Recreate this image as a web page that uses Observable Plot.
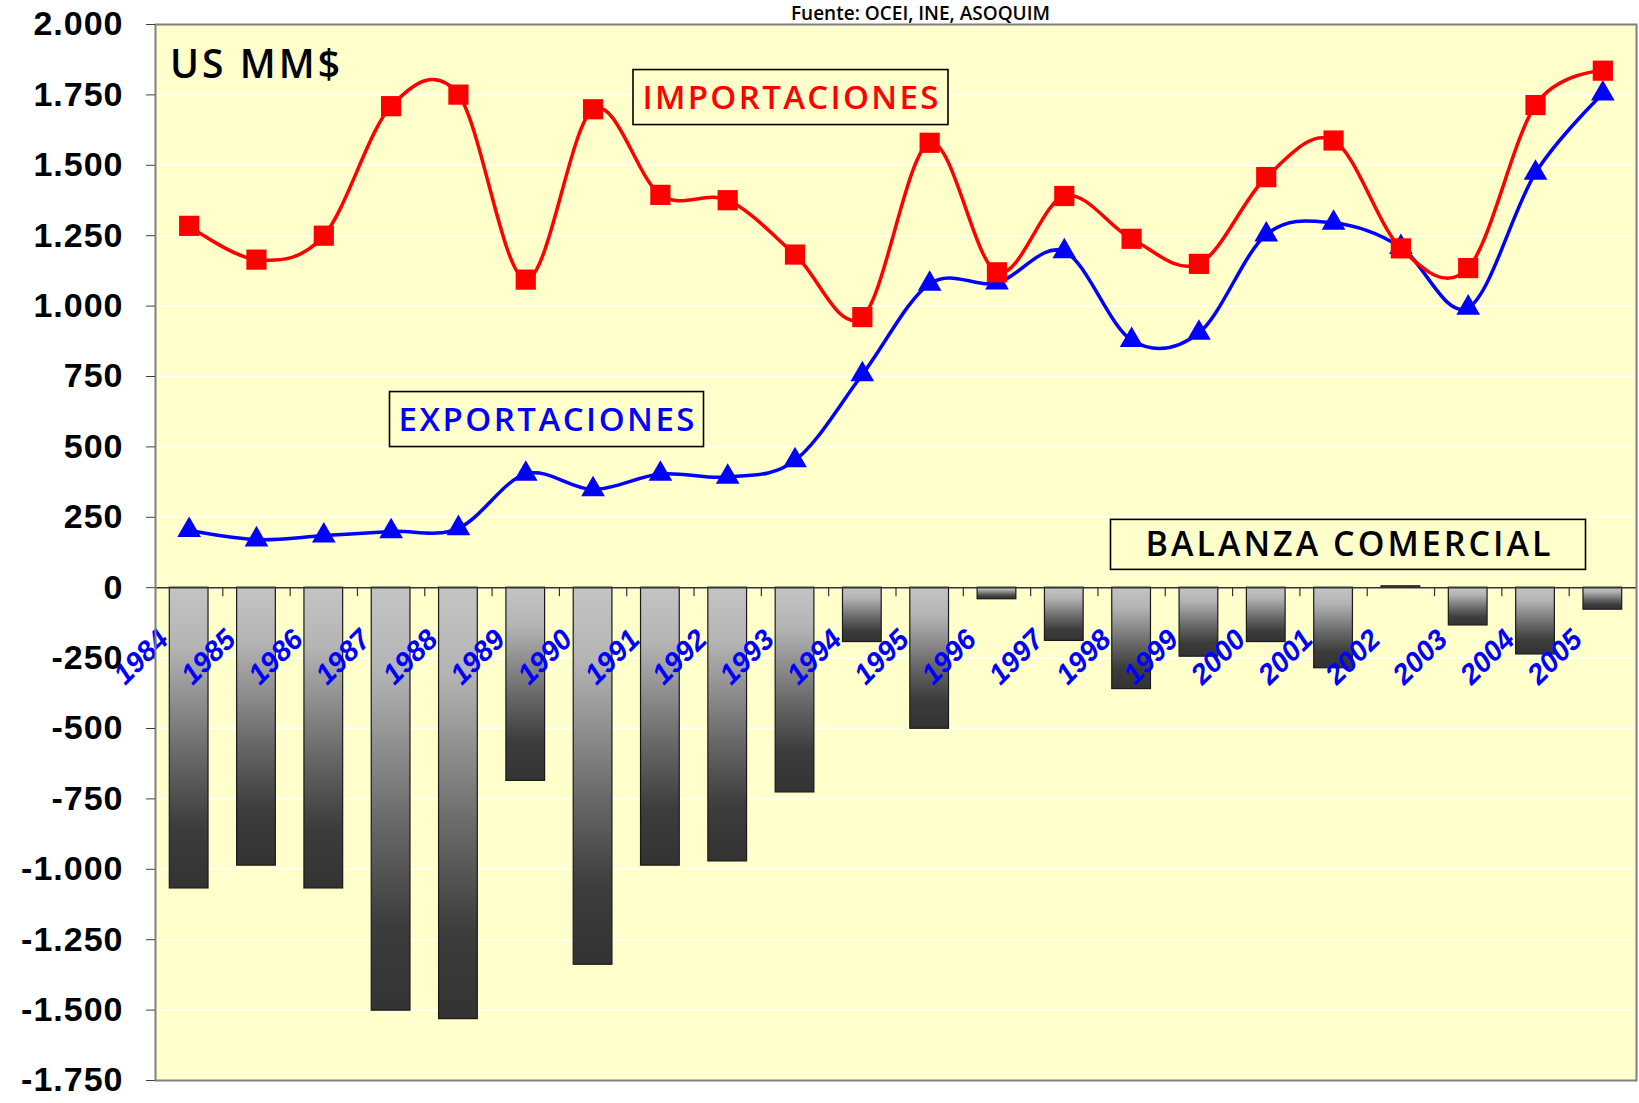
<!DOCTYPE html>
<html>
<head>
<meta charset="utf-8">
<script src="https://cdn.jsdelivr.net/npm/d3@7"></script>
<script src="https://cdn.jsdelivr.net/npm/@observablehq/plot@0.6"></script>
<style>
  html, body { margin: 0; padding: 0; background: #ffffff; overflow: hidden; }
  #chart { position: relative; width: 1639px; height: 1103px; }
  g[aria-label="y-axis tick label"] text { letter-spacing: 1px; }
</style>
</head>
<body>
<div id="chart"></div>
<script>
// ---------- data (US MM$) ----------
const years = [1984, 1985, 1986, 1987, 1988, 1989, 1990, 1991, 1992, 1993, 1994,
               1995, 1996, 1997, 1998, 1999, 2000, 2001, 2002, 2003, 2004, 2005];
const yearLabels = ["1984", "1985", "1986", "1987", "1988", "1989", "1990", "1991", "1992", "1993", "1994",
                    "1995", "1996", "1997", "1998", "1999", "2000", "2001", "2002", "2003", "2004", "2005"];
const importaciones = [1285, 1165, 1250, 1710, 1751, 1094, 1699, 1395, 1376, 1183, 961,
                       1580, 1120, 1391, 1239, 1150, 1458, 1588, 1205, 1135, 1714, 1836];
const exportaciones = [204, 171, 185, 200, 211, 404, 349, 404, 393, 452, 757,
                       1079, 1083, 1194, 879, 905, 1254, 1295, 1209, 994, 1473, 1754];
const balanza = [-1068, -987, -1068, -1502, -1532, -686, -1339, -987, -972, -727, -193,
                 -501, -41, -189, -360, -245, -193, -286, 5, -134, -237, -78];
const yTicks = [2000, 1750, 1500, 1250, 1000, 750, 500, 250, 0,
                -250, -500, -750, -1000, -1250, -1500, -1750];
const unitLabel = "US MM$";
const importLabel = "IMPORTACIONES";
const exportLabel = "EXPORTACIONES";
const balanceLabel = "BALANZA COMERCIAL";
const sourceLabel = "Fuente: OCEI, INE, ASOQUIM";

// ---------- table built from the arrays ----------
const rows = years.map((year, i) => ({
  year, label: yearLabels[i],
  imp: importaciones[i], exp: exportaciones[i], bal: balanza[i]
}));
const boundaries = years.slice(0, -1).map(y => y + 0.5);

const locale = d3.formatLocale({decimal: ",", thousands: ".", grouping: [3], currency: ["", ""], minus: "-"});
const fmt = locale.format(",d");

const boxFont = "'Open Sans', 'DejaVu Sans', sans-serif";

const svg = Plot.plot({
  width: 1639,
  height: 1103,
  marginLeft: 155,
  marginRight: 3,
  marginTop: 24,
  marginBottom: 23,
  style: {background: "#ffffff", fontFamily: "'Liberation Sans', Arial, sans-serif"},
  x: {type: "linear", domain: [years[0] - 0.5, years[years.length - 1] + 0.5], axis: null},
  y: {domain: [-1750, 2000]},
  marks: [
    Plot.frame({fill: "#FFFFCC", stroke: null}),
    Plot.gridY(yTicks, {stroke: "#ffffff", strokeOpacity: 1, strokeWidth: 1.5}),
    Plot.rect(rows, {
      x1: d => d.year - 0.5, x2: d => d.year + 0.5, y1: 0, y2: "bal",
      insetLeft: 14.3, insetRight: 14.3,
      fill: "url(#barGrad)", stroke: "#1a1a1a", strokeWidth: 1.2
    }),
    Plot.ruleY([0], {stroke: "#333333", strokeWidth: 1.5}),
    Plot.ruleX(boundaries, {x: d => d, y1: 0, y2: 0, insetTop: 0, insetBottom: -9, stroke: "#333333", strokeWidth: 1.2}),
    Plot.line(rows, {x: "year", y: "exp", curve: "cardinal", tension: 0, stroke: "#0000FF", strokeWidth: 3.5}),
    Plot.dot(rows, {x: "year", y: "exp", symbol: "triangle", r: 8.8, fill: "#0000FF", stroke: null}),
    Plot.line(rows, {x: "year", y: "imp", curve: "cardinal", tension: 0, stroke: "#FF0000", strokeWidth: 3.5}),
    Plot.dot(rows, {x: "year", y: "imp", symbol: "square", r: 11.4, fill: "#FF0000", stroke: null}),
    Plot.text(rows, {
      x: "year", y: () => 0, text: "label", rotate: -45, textAnchor: "end", lineAnchor: "bottom",
      dx: -19, dy: 53.5, fill: "#0000FF", fontSize: 28.5, fontWeight: "bold", fontStyle: "italic"
    }),
    Plot.text([unitLabel], {
      frameAnchor: "top-left", text: d => d, dx: 99.5, dy: 41, textAnchor: "middle", lineAnchor: "middle",
      fontSize: 39, fontWeight: 600, fontFamily: boxFont, fill: "#000000", className: "box-unit"
    }),
    Plot.text([importLabel], {
      frameAnchor: "top-left", text: d => d, dx: 635, dy: 73.5, textAnchor: "middle", lineAnchor: "middle",
      fontSize: 33, fontWeight: 600, fontFamily: boxFont, fill: "#FF0000", className: "box-imp"
    }),
    Plot.text([exportLabel], {
      frameAnchor: "top-left", text: d => d, dx: 391, dy: 395.5, textAnchor: "middle", lineAnchor: "middle",
      fontSize: 33, fontWeight: 600, fontFamily: boxFont, fill: "#0000FF", className: "box-exp"
    }),
    Plot.text([balanceLabel], {
      frameAnchor: "top-left", text: d => d, dx: 1192.5, dy: 521, textAnchor: "middle", lineAnchor: "middle",
      fontSize: 34, fontWeight: 600, fontFamily: boxFont, fill: "#000000", className: "box-bal"
    }),
    Plot.text([sourceLabel], {
      frameAnchor: "top", text: d => d, dx: 24.5, dy: -5, textAnchor: "middle", lineAnchor: "bottom",
      fontSize: 19, fontWeight: 600, fontFamily: boxFont, fill: "#000000"
    }),
    Plot.frame({stroke: "#808080", strokeWidth: 2}),
    Plot.axisY({
      ticks: yTicks, tickFormat: fmt, tickSize: 9, tickPadding: 23, label: null,
      fontSize: 34, fontWeight: "bold", fill: "#000000", stroke: "#404040"
    })
  ]
});

document.getElementById("chart").appendChild(svg);

// gradient for the balance bars
const NS = "http://www.w3.org/2000/svg";
const defs = document.createElementNS(NS, "defs");
defs.innerHTML = `
  <linearGradient id="barGrad" x1="0" y1="0" x2="0" y2="1">
    <stop offset="0" stop-color="#c4c4c4"/>
    <stop offset="0.2" stop-color="#b4b4b4"/>
    <stop offset="0.55" stop-color="#6a6a6a"/>
    <stop offset="0.8" stop-color="#3c3c3c"/>
    <stop offset="1" stop-color="#333333"/>
  </linearGradient>`;
svg.insertBefore(defs, svg.firstChild);

// boxed labels: [class, target text width, box width, box height, draw box]
const boxes = [
  ["box-unit", 170, 0, 0, false],
  ["box-imp", 296, 315, 55, true],
  ["box-exp", 296, 314, 55, true],
  ["box-bal", 405, 475, 50, true]
];
for (const [cls, tw, bw, bh, draw] of boxes) {
  const g = svg.querySelector("g." + cls) || svg.querySelector("." + cls);
  if (!g) continue;
  const t = g.querySelector("text");
  if (!t) continue;
  t.setAttribute("textLength", tw);
  t.setAttribute("lengthAdjust", "spacing");
  if (!draw) continue;
  const bb = t.getBBox();
  const cx = bb.x + bb.width / 2, cy = bb.y + bb.height / 2;
  const r = document.createElementNS(NS, "rect");
  r.setAttribute("x", cx - bw / 2);
  r.setAttribute("y", cy - bh / 2 + 1);
  r.setAttribute("width", bw);
  r.setAttribute("height", bh);
  r.setAttribute("fill", "#FFFFCC");
  r.setAttribute("stroke", "#000000");
  r.setAttribute("stroke-width", 1.6);
  if (t.getAttribute("transform")) r.setAttribute("transform", t.getAttribute("transform"));
  t.parentNode.insertBefore(r, t);
}
</script>
</body>
</html>
